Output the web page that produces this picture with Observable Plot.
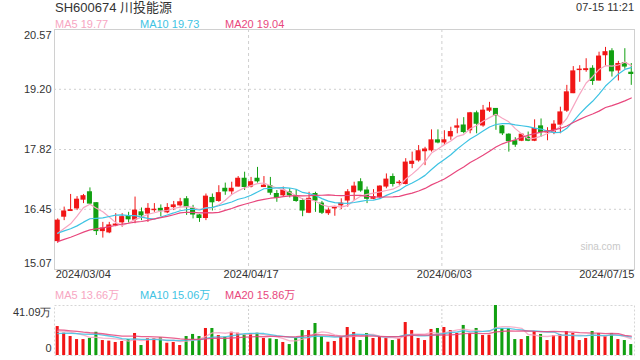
<!DOCTYPE html>
<html><head><meta charset="utf-8">
<script src="https://cdn.jsdelivr.net/npm/d3@7"></script>
<script src="https://cdn.jsdelivr.net/npm/@observablehq/plot@0.6"></script>
<style>
html,body{margin:0;padding:0;background:#fff;}
body{width:640px;height:360px;position:relative;overflow:hidden;font-family:"Liberation Sans","Noto Sans CJK SC",Arial,sans-serif;}
.abs{position:absolute;white-space:nowrap;line-height:1;}
#price,#vol{position:absolute;left:0;}
#price{top:25px;} #vol{top:301px;}
</style></head><body>
<div class="abs" style="left:55px;top:1px;font-size:13px;color:#333;">SH600674 川投能源</div>
<div class="abs" style="right:6px;top:2px;font-size:11px;color:#333;">07-15 11:21</div>
<div id="legendPrice"></div>
<div id="price"></div>
<div id="legendVol"></div>
<div id="vol"></div>
<script>
// ---- data ----
const dateLabels = ["2024/03/04", "2024/04/17", "2024/06/03", "2024/07/15"];
const dateLabelIndex = [0, 30, 60, 89];
const priceTicks = [20.57, 19.20, 17.82, 16.45, 15.07];
const volumeTicks = [41.09, 0];
const volumeTickLabels = ["41.09万", "0"];
const maNames = ["MA5", "MA10", "MA20"];
const maPriceValues = ["19.77", "19.73", "19.04"];
const maVolumeValues = ["13.66万", "15.06万", "15.86万"];

const open = [15.72,16.28,16.41,16.47,16.67,16.84,16.59,15.95,15.92,16.08,
16.15,16.28,16.21,16.38,16.35,16.43,16.46,16.38,16.50,16.54,
16.68,16.46,16.31,16.25,16.71,16.64,16.92,16.86,16.97,17.15,
16.97,17.15,16.96,16.98,16.80,16.77,16.84,16.74,16.64,16.37,
16.80,16.58,16.36,16.47,16.54,16.65,16.84,17.07,16.88,16.69,
16.73,16.97,17.19,17.05,17.03,17.49,17.57,17.78,17.80,18.03,
17.98,18.12,18.32,18.37,18.26,18.65,18.37,18.71,18.75,18.35,
18.16,18.01,18.02,18.09,18.02,18.35,18.21,18.22,18.39,18.71,
19.11,19.64,19.64,19.67,19.40,19.98,20.07,19.63,19.80,19.58];
const close = [16.19,16.40,16.43,16.67,16.75,16.58,15.95,16.01,16.08,16.10,
16.27,16.22,16.42,16.31,16.46,16.44,16.42,16.48,16.54,16.61,
16.50,16.33,16.25,16.74,16.61,16.82,16.86,16.92,17.15,16.96,
17.07,17.09,16.99,16.83,16.71,16.88,16.77,16.64,16.42,16.69,
16.65,16.37,16.42,16.48,16.58,16.84,16.97,16.88,16.69,16.73,
16.97,17.13,17.03,17.06,17.52,17.54,17.78,17.82,18.03,17.98,
18.03,18.22,18.35,18.22,18.65,18.41,18.71,18.76,18.60,18.19,
18.01,17.93,18.16,18.02,18.29,18.22,18.24,18.39,18.67,19.13,
19.61,19.65,19.66,19.39,19.95,20.05,19.61,19.78,19.72,19.55];
const high = [16.23,16.50,16.79,16.74,16.79,16.94,16.60,16.15,16.15,16.35,
16.35,16.38,16.73,16.48,16.58,16.58,16.55,16.58,16.63,16.70,
16.74,16.54,16.33,16.80,16.80,16.99,17.05,17.07,17.20,17.30,
17.18,17.41,17.20,17.18,16.88,16.96,16.92,16.90,16.69,16.84,
16.84,16.63,16.48,16.52,16.69,16.90,17.07,17.15,16.96,16.90,
16.99,17.26,17.26,17.11,17.61,17.76,17.91,17.87,18.27,18.27,
18.25,18.33,18.52,18.55,18.67,18.70,18.83,18.90,18.75,18.37,
18.18,18.09,18.18,18.22,18.50,18.52,18.32,18.48,18.79,19.29,
19.72,19.74,19.90,19.74,20.05,20.16,20.13,19.84,20.13,19.79];
const low = [15.67,16.19,16.40,16.42,16.58,16.54,15.85,15.79,15.89,16.05,
16.04,16.13,16.12,16.19,16.15,16.38,16.28,16.35,16.42,16.50,
16.31,16.23,16.15,16.19,16.41,16.61,16.77,16.77,16.96,16.88,
16.94,17.05,16.95,16.77,16.61,16.73,16.71,16.61,16.28,16.35,
16.38,16.33,16.31,16.29,16.44,16.50,16.65,16.84,16.58,16.67,
16.69,16.92,16.96,17.00,17.01,17.38,17.53,17.45,17.76,17.95,
17.91,18.03,18.18,18.18,18.18,18.18,18.33,18.67,18.26,18.14,
17.76,17.87,18.00,18.00,18.00,18.10,18.02,18.16,18.18,18.67,
19.10,19.36,19.59,19.29,19.39,19.72,19.48,19.39,19.66,19.29];
// volume in 万 (10k shares)
const volume = [23.8,18.3,15.6,13.1,13.1,14.0,19.1,12.3,11.8,10.7,
11.5,13.1,18.1,8.2,13.7,13.7,14.5,10.1,10.7,8.2,
15.6,17.3,15.6,22.2,22.2,16.4,15.0,19.1,18.3,17.3,
17.8,18.3,14.0,13.7,13.1,10.7,9.0,14.0,20.5,20.5,
26.3,15.6,10.9,11.5,14.8,23.0,18.9,12.3,18.1,14.0,
15.6,14.0,12.3,14.0,27.1,20.5,14.0,12.3,21.4,22.2,
23.0,20.5,18.1,24.7,18.1,22.2,16.4,16.7,41.09,22.2,
22.2,13.1,13.1,15.6,19.7,17.3,12.3,16.4,17.3,19.7,
18.1,12.3,14.0,19.7,18.1,15.6,18.1,13.1,12.3,9.0];
// sessions before 2024/03/04 (estimated from where the MA lines start); not drawn as candles
const priorCloses = [15.40,15.45,15.50,15.55,15.60,15.50,15.50,15.55,15.55,15.60,15.85,15.95,16.00,15.90,15.80,15.85,15.90,15.78,15.78];
const priorVolumes = [22,26,24,25,23,24,24,25,23,24,15,17,16,16,16,18,20,19,19.2];

// ---- styles ----
const UP = "#f11616", DOWN = "#11a011";
const MA_COLORS = ["#f7a6c2", "#3ec3e3", "#e8477d"];
const MA_K = [5, 10, 20];
const GRID = "#cfcfcf";

const n = close.length;
const candles = d3.range(n).map(i => ({i, open: open[i], close: close[i], high: high[i], low: low[i], vol: volume[i], up: close[i] >= open[i]}));
const np = priorCloses.length;
const series = [
  ...priorCloses.map((c, j) => ({i: j - np, close: c, vol: priorVolumes[j]})),
  ...candles
];
const xScale = {type: "band", domain: d3.range(n), padding: 0, axis: null};

// legends
function legend(id, top, values) {
  const el = document.getElementById(id);
  const lefts = [55, 140, 225];
  maNames.forEach((name, k) => {
    const d = document.createElement("div");
    d.className = "abs";
    d.style.cssText = `left:${lefts[k]}px;top:${top}px;font-size:11px;color:${MA_COLORS[k]};`;
    d.textContent = `${name} ${values[k]}`;
    el.appendChild(d);
  });
}
legend("legendPrice", 19, maPriceValues);
legend("legendVol", 290, maVolumeValues);

const fontStyle = {fontFamily: "Liberation Sans, Arial, sans-serif", fontSize: "11px", color: "#333", background: "transparent"};

const price = Plot.plot({
  width: 640, height: 260,
  marginTop: 4, marginBottom: 16, marginLeft: 54, marginRight: 6,
  style: fontStyle,
  x: xScale,
  y: {domain: [15.07, 20.57], axis: null},
  marks: [
    Plot.ruleY(priceTicks.slice(1, -1), {stroke: GRID, strokeDasharray: "2,3"}),
    Plot.ruleX(dateLabelIndex.slice(1, -1), {stroke: GRID, strokeDasharray: "3,3", dx: -2.5}),
    Plot.frame({stroke: "#d0d0d0"}),
    Plot.text(["sina.com"], {frameAnchor: "bottom-right", textAnchor: "end", dx: -14, dy: -20, fill: "#c8c8c8", fontSize: 10}),
    Plot.ruleX(candles, {x: "i", y1: "low", y2: "high", stroke: d => d.up ? UP : DOWN, strokeWidth: 1}),
    Plot.barY(candles, {x: "i", y1: "open", y2: "close", fill: d => d.up ? UP : DOWN, insetLeft: 0.7, insetRight: 0.7, insetTop: -0.5, insetBottom: -0.5}),
    ...MA_K.map((k, j) => Plot.line(series, Plot.windowY({k, anchor: "end", reduce: "mean"}, {x: "i", y: "close", stroke: MA_COLORS[j], strokeWidth: 1.2}))),
    Plot.text(priceTicks.slice(1, -1), {y: d => d, text: d => d.toFixed(2), frameAnchor: "left", textAnchor: "end", dx: -3, fill: "#333", fontSize: 11}),
    Plot.text([priceTicks[0]], {y: d => d, text: d => d.toFixed(2), frameAnchor: "left", textAnchor: "end", dx: -3, dy: 6, fill: "#333", fontSize: 11}),
    Plot.text([priceTicks[priceTicks.length - 1]], {y: d => d, text: d => d.toFixed(2), frameAnchor: "left", textAnchor: "end", dx: -3, dy: -6, fill: "#333", fontSize: 11}),
    Plot.text([0], {x: j => dateLabelIndex[j], text: j => dateLabels[j], frameAnchor: "bottom", textAnchor: "start", dx: -2, dy: 8, fill: "#333", fontSize: 11}),
    Plot.text([1, 2], {x: j => dateLabelIndex[j], text: j => dateLabels[j], frameAnchor: "bottom", textAnchor: "middle", dy: 8, fill: "#333", fontSize: 11}),
    Plot.text([3], {x: j => dateLabelIndex[j], text: j => dateLabels[j], frameAnchor: "bottom", textAnchor: "end", dx: 3, dy: 8, fill: "#333", fontSize: 11})
  ]
});
document.getElementById("price").appendChild(price);

const vol = Plot.plot({
  width: 640, height: 59,
  marginTop: 4, marginBottom: 5, marginLeft: 54, marginRight: 6,
  style: fontStyle,
  x: xScale,
  y: {domain: [0, volumeTicks[0]], axis: null},
  marks: [
    Plot.ruleX(dateLabelIndex.slice(1, -1), {stroke: GRID, strokeDasharray: "2,2", dx: -2.5}),
    Plot.frame({stroke: "#d6d6d6", strokeDasharray: "2,2"}),
    Plot.barY(candles, {x: "i", y: "vol", fill: d => d.up ? UP : DOWN, insetLeft: 1.7, insetRight: 1.7}),
    ...MA_K.map((k, j) => Plot.line(series, Plot.windowY({k, anchor: "end", reduce: "mean"}, {x: "i", y: "vol", stroke: MA_COLORS[j], strokeWidth: 1.3, strokeOpacity: 0.85}))),
    Plot.text([0], {y: j => volumeTicks[j], text: j => volumeTickLabels[j], frameAnchor: "left", textAnchor: "end", dx: -3, dy: 6.5, fill: "#333", fontSize: 11}),
    Plot.text([1], {y: j => volumeTicks[j], text: j => volumeTickLabels[j], frameAnchor: "left", textAnchor: "end", dx: -3, dy: -7, fill: "#333", fontSize: 11})
  ]
});
document.getElementById("vol").appendChild(vol);
</script>
</body></html>
